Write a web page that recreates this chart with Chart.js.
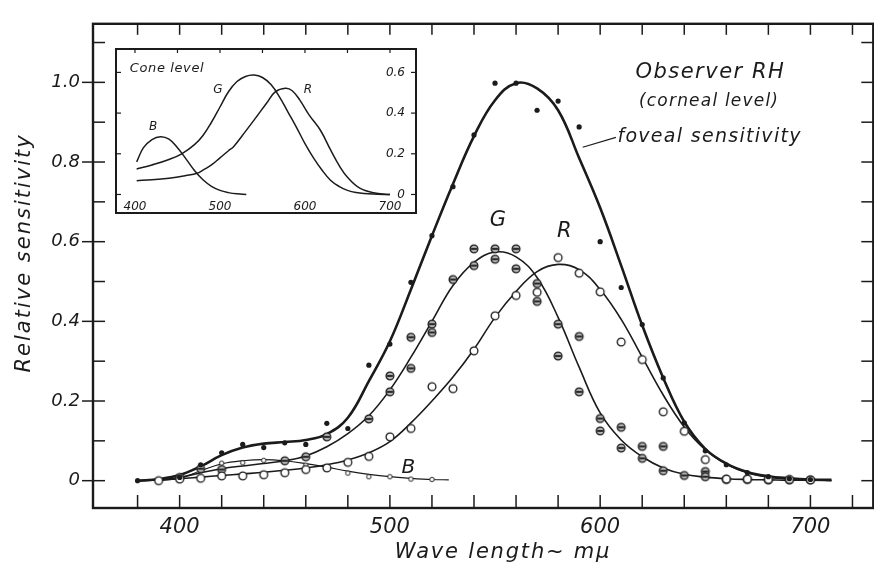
<!DOCTYPE html>
<html>
<head>
<meta charset="utf-8">
<title>Relative sensitivity, observer RH</title>
<script src="https://cdn.jsdelivr.net/npm/chart.js@4.4.1/dist/chart.umd.min.js"></script>
<style>
  html, body { margin: 0; padding: 0; background: #fff; overflow: hidden; }
  #wrap { position: relative; width: 900px; height: 569px; overflow: hidden; }
  #main { position: absolute; left: 0; top: 0; }
  #inset { position: absolute; left: 115px; top: 48px; background: #fff; }
</style>
</head>
<body>
<div id="wrap">
  <canvas id="main" width="900" height="569"></canvas>
  <canvas id="inset" width="302" height="166"></canvas>
</div>
<script>
(function () {
  'use strict';

  // fitted curves, read every 10 mμ
  var curveNm = [380, 390, 400, 410, 420, 430, 440, 450, 460, 470, 480, 490, 500, 510, 520, 530, 540,
    550, 560, 570, 580, 590, 600, 610, 620, 630, 640, 650, 660, 670, 680, 690, 700, 710];
  var fovealFit = [0.0, 0.004, 0.014, 0.036, 0.064, 0.083, 0.093, 0.097, 0.102, 0.117, 0.158, 0.25, 0.35,
    0.48, 0.615, 0.745, 0.865, 0.955, 0.998, 0.985, 0.93, 0.81, 0.685, 0.54, 0.39, 0.258, 0.148, 0.08,
    0.043, 0.022, 0.011, 0.006, 0.003, 0.002];
  var greenFit = [0.0, 0.002, 0.008, 0.02, 0.03, 0.037, 0.043, 0.05, 0.062, 0.085, 0.118, 0.163, 0.228,
    0.31, 0.4, 0.49, 0.548, 0.574, 0.562, 0.51, 0.41, 0.285, 0.17, 0.102, 0.06, 0.032, 0.016, 0.009,
    0.005, 0.003, 0.002, 0.001, 0.001, 0.0];
  var redFit = [0.0, 0.002, 0.005, 0.009, 0.013, 0.017, 0.021, 0.026, 0.032, 0.04, 0.052, 0.07, 0.098,
    0.145, 0.2, 0.26, 0.33, 0.41, 0.475, 0.525, 0.543, 0.53, 0.48, 0.405, 0.31, 0.215, 0.135, 0.078,
    0.042, 0.02, 0.009, 0.004, 0.002, 0.001];
  var blueFitNm = [390, 400, 410, 420, 430, 440, 450, 460, 470, 480, 490, 500, 510, 520, 528];
  var blueFit = [0.001, 0.006, 0.025, 0.042, 0.05, 0.053, 0.05, 0.043, 0.034, 0.024, 0.016, 0.01, 0.006,
    0.003, 0.002];

  // measured points
  var fovealNm = [380, 400, 410, 420, 430, 440, 450, 460, 470, 480, 490, 500, 510, 520, 530, 540, 550,
    560, 570, 580, 590, 600, 610, 620, 630, 640, 650, 660, 670, 680, 690, 700];
  var fovealVal = [0.0, 0.008, 0.04, 0.07, 0.091, 0.083, 0.095, 0.091, 0.144, 0.131, 0.29, 0.343, 0.498,
    0.615, 0.738, 0.868, 0.998, 0.998, 0.93, 0.953, 0.888, 0.6, 0.485, 0.392, 0.258, 0.145, 0.075, 0.04,
    0.02, 0.01, 0.005, 0.003];
  var greenNm = [400, 410, 420, 450, 460, 470, 490, 500, 500, 510, 510, 520, 520, 530, 540, 540, 550, 550,
    560, 560, 570, 570, 580, 580, 590, 590, 600, 600, 610, 610, 620, 620, 630, 630, 640, 650, 650, 660,
    670, 680, 690, 700];
  var greenVal = [0.008, 0.03, 0.028, 0.05, 0.06, 0.11, 0.155, 0.263, 0.223, 0.36, 0.282, 0.393, 0.372,
    0.505, 0.582, 0.54, 0.582, 0.556, 0.582, 0.532, 0.495, 0.45, 0.393, 0.313, 0.362, 0.223, 0.156, 0.125,
    0.134, 0.082, 0.086, 0.056, 0.086, 0.025, 0.013, 0.023, 0.01, 0.003, 0.003, 0.002, 0.002, 0.002];
  var redNm = [390, 400, 410, 420, 430, 440, 450, 460, 470, 480, 490, 500, 510, 520, 530, 540, 550, 560,
    570, 580, 590, 600, 610, 620, 630, 640, 650, 660, 670, 680, 690, 700];
  var redVal = [0.0, 0.004, 0.006, 0.012, 0.012, 0.015, 0.02, 0.028, 0.032, 0.046, 0.061, 0.11, 0.131,
    0.236, 0.231, 0.326, 0.414, 0.465, 0.473, 0.56, 0.521, 0.474, 0.348, 0.304, 0.173, 0.124, 0.053,
    0.004, 0.004, 0.003, 0.003, 0.002];
  var blueNm = [410, 420, 430, 440, 450, 460, 470, 480, 490, 500, 510, 520];
  var blueVal = [0.026, 0.044, 0.045, 0.051, 0.05, 0.039, 0.033, 0.019, 0.01, 0.01, 0.004, 0.003];

  // inset: cone level curves
  var coneBNm = [402, 410, 420, 430, 440, 450, 460, 470, 480, 490, 500, 510, 520, 531];
  var coneB = [0.16, 0.23, 0.27, 0.284, 0.272, 0.23, 0.175, 0.118, 0.072, 0.04, 0.02, 0.009, 0.003, 0.0];
  var coneGNm = [402, 420, 440, 455, 470, 480, 490, 500, 510, 520, 530, 540, 550, 560, 570, 580, 590,
    600, 610, 620, 630, 640, 650, 660, 680, 700];
  var coneG = [0.125, 0.145, 0.172, 0.2, 0.245, 0.29, 0.355, 0.43, 0.505, 0.555, 0.58, 0.587, 0.575,
    0.54, 0.48, 0.405, 0.33, 0.25, 0.18, 0.12, 0.07, 0.04, 0.02, 0.01, 0.002, 0.0];
  var coneRNm = [402, 420, 440, 460, 473, 480, 490, 500, 510, 516, 530, 543, 555, 565, 577, 585, 594,
    605, 618, 630, 641, 650, 665, 684, 700];
  var coneR = [0.068, 0.072, 0.08, 0.093, 0.104, 0.12, 0.145, 0.18, 0.215, 0.235, 0.31, 0.382, 0.45,
    0.504, 0.522, 0.51, 0.464, 0.39, 0.317, 0.22, 0.137, 0.085, 0.03, 0.006, 0.0];

  // axes
  var xTicks = [380, 400, 420, 440, 460, 480, 500, 520, 540, 560, 580, 600, 620, 640, 660, 680, 700, 720, 740];
  var xLabels = ['', '400', '', '', '', '', '500', '', '', '', '', '600', '', '', '', '', '700', '', ''];
  var yTicks = [0, 0.1, 0.2, 0.3, 0.4, 0.5, 0.6, 0.7, 0.8, 0.9, 1.0, 1.1];
  var yLabels = ['0', '', '0.2', '', '0.4', '', '0.6', '', '0.8', '', '1.0', ''];
  var insetXTicks = [400, 450, 500, 550, 600, 650, 700];
  var insetXLabels = ['400', '', '500', '', '600', '', '700'];
  var insetYTicks = [0, 0.2, 0.4, 0.6];
  var insetYLabels = ['0', '0.2', '0.4', '0.6'];

  var ink = '#1b1b1b';
  var family = '"DejaVu Sans"';

  function pairs(xs, ys) {
    return xs.map(function (x, i) { return {x: x, y: ys[i]}; });
  }

  function curve(xs, ys, width) {
    return {
      data: pairs(xs, ys),
      borderColor: ink,
      borderWidth: width,
      pointRadius: 0,
      tension: 0.4,
      fill: false
    };
  }

  function dots(xs, ys, style, radius) {
    return {
      data: pairs(xs, ys),
      showLine: false,
      pointStyle: style,
      pointRadius: radius,
      pointBackgroundColor: ink,
      pointBorderWidth: 0
    };
  }

  function marker(r, fill, bar, lw) {
    var c = document.createElement('canvas'), s = Math.ceil(r * 2 + 4), m = s / 2, ctx;
    c.width = s;
    c.height = s;
    ctx = c.getContext('2d');
    ctx.beginPath();
    ctx.arc(m, m, r, 0, Math.PI * 2);
    ctx.fillStyle = fill;
    ctx.fill();
    ctx.lineWidth = lw;
    ctx.strokeStyle = ink;
    ctx.stroke();
    if (bar) {
      ctx.beginPath();
      ctx.moveTo(m - r + 1, m);
      ctx.lineTo(m + r - 1, m);
      ctx.lineWidth = 1.8;
      ctx.stroke();
    }
    return c;
  }

  function text(ctx, str, x, y, size, spacing, align) {
    ctx.font = 'italic ' + size + 'px ' + family;
    ctx.letterSpacing = spacing + 'px';
    ctx.textAlign = align || 'center';
    ctx.textBaseline = 'middle';
    ctx.fillText(str, x, y);
  }

  function line(ctx, x1, y1, x2, y2) {
    ctx.beginPath();
    ctx.moveTo(x1, y1);
    ctx.lineTo(x2, y2);
    ctx.stroke();
  }

  var barred = marker(3.9, '#b4b4b4', true, 1.3);
  var open = marker(3.9, '#fff', false, 1.3);
  var small = marker(2.2, '#fff', false, 1);

  // frame with inward ticks, notes and axis titles; the right edge of the
  // frame sits just past the visible page, only its ticks show
  var mainFrame = {
    id: 'mainFrame',
    afterDraw: function (chart) {
      var ctx = chart.ctx, a = chart.chartArea, x = chart.scales.x, y = chart.scales.y;
      var rightEdge = x.getPixelForValue(729.9);
      ctx.save();
      ctx.strokeStyle = ink;
      ctx.fillStyle = ink;
      ctx.lineWidth = 2.4;
      ctx.strokeRect(a.left, a.top, rightEdge - a.left, a.bottom - a.top);
      ctx.lineWidth = 1.5;
      xTicks.forEach(function (v) {
        var px = x.getPixelForValue(v);
        line(ctx, px, a.bottom, px, a.bottom - 13);
        line(ctx, px, a.top, px, a.top + 11);
      });
      yTicks.forEach(function (v, i) {
        var py = y.getPixelForValue(v);
        line(ctx, a.left, py, a.left + 12, py);
        line(ctx, rightEdge, py, rightEdge - 12, py);
        if (yLabels[i]) {
          line(ctx, a.left - 11, py, a.left, py);
        }
      });

      text(ctx, 'Observer RH', x.getPixelForValue(652.4), y.getPixelForValue(1.025), 21, 1.5);
      text(ctx, '(corneal level)', x.getPixelForValue(651.8), y.getPixelForValue(0.952), 17, 1.2);
      text(ctx, 'foveal sensitivity', x.getPixelForValue(608.2), y.getPixelForValue(0.862), 19, 1.3, 'left');
      ctx.lineWidth = 1.2;
      line(ctx, x.getPixelForValue(591.7), y.getPixelForValue(0.837),
        x.getPixelForValue(607.5), y.getPixelForValue(0.862));
      text(ctx, 'G', x.getPixelForValue(551.4), y.getPixelForValue(0.654), 21, 0);
      text(ctx, 'R', x.getPixelForValue(583), y.getPixelForValue(0.625), 21, 0);
      text(ctx, 'B', x.getPixelForValue(508.8), y.getPixelForValue(0.033), 20, 0);

      text(ctx, 'Wave length~ mμ', x.getPixelForValue(553.8), a.bottom + 45, 21, 1.8);
      ctx.translate(a.left - 68, (a.top + a.bottom) / 2 - 13);
      ctx.rotate(-Math.PI / 2);
      text(ctx, 'Relative sensitivity', 0, 0, 21, 2);
      ctx.restore();
    }
  };

  new Chart(document.getElementById('main'), {
    type: 'line',
    data: {
      datasets: [
        dots(fovealNm, fovealVal, 'circle', 2.6),
        dots(redNm, redVal, open, 4),
        dots(greenNm, greenVal, barred, 4),
        dots(blueNm, blueVal, small, 2.5),
        curve(curveNm, fovealFit, 2.6),
        curve(curveNm, greenFit, 1.6),
        curve(curveNm, redFit, 1.6),
        curve(blueFitNm, blueFit, 1.2)
      ]
    },
    options: {
      responsive: false,
      animation: false,
      devicePixelRatio: 1,
      layout: {padding: {top: 12, right: 0, left: 0, bottom: 0}},
      plugins: {legend: {display: false}, tooltip: {enabled: false}},
      scales: {
        x: {
          type: 'linear',
          min: 358.8,
          max: 740.7,
          grid: {display: false, drawTicks: false},
          border: {display: false},
          afterBuildTicks: function (s) {
            s.ticks = xTicks.map(function (v) { return {value: v}; });
          },
          afterFit: function (s) {
            s.height = 61;
            s.paddingLeft = 0;
            s.paddingRight = 0;
          },
          ticks: {
            autoSkip: false,
            maxRotation: 0,
            padding: 7,
            color: ink,
            font: {family: family, style: 'italic', size: 21},
            callback: function (v, i) { return xLabels[i]; }
          }
        },
        y: {
          type: 'linear',
          min: -0.0686,
          max: 1.147,
          grid: {display: false, drawTicks: false},
          border: {display: false},
          afterBuildTicks: function (s) {
            s.ticks = yTicks.map(function (v) { return {value: v}; });
          },
          afterFit: function (s) { s.width = 93; },
          ticks: {
            autoSkip: false,
            padding: 13,
            color: ink,
            font: {family: family, style: 'italic', size: 18},
            callback: function (v, i) { return yLabels[i]; }
          }
        }
      }
    },
    plugins: [mainFrame]
  });

  // inset box: border, ticks, labels on the inside
  var insetFrame = {
    id: 'insetFrame',
    afterDraw: function (chart) {
      var ctx = chart.ctx, a = chart.chartArea, x = chart.scales.x, y = chart.scales.y;
      ctx.save();
      ctx.strokeStyle = ink;
      ctx.fillStyle = ink;
      ctx.lineWidth = 2;
      ctx.strokeRect(a.left + 1, a.top + 1, a.right - a.left - 2, a.bottom - a.top - 2);
      ctx.lineWidth = 1.2;
      insetYTicks.forEach(function (v, i) {
        var py = y.getPixelForValue(v);
        line(ctx, a.left, py, a.left + 6, py);
        line(ctx, a.right, py, a.right - 6, py);
        text(ctx, insetYLabels[i], a.right - 12, py, 12, 0, 'right');
      });
      insetXTicks.forEach(function (v, i) {
        var px = x.getPixelForValue(v);
        line(ctx, px, a.top, px, a.top + 5);
        if (insetXLabels[i]) {
          text(ctx, insetXLabels[i], px, a.bottom - 7, 12, 0);
        }
      });
      text(ctx, 'Cone level', x.getPixelForValue(394), y.getPixelForValue(0.62), 13, 0.6, 'left');
      text(ctx, 'B', x.getPixelForValue(421.2), y.getPixelForValue(0.332), 12, 0);
      text(ctx, 'G', x.getPixelForValue(497.6), y.getPixelForValue(0.514), 12, 0);
      text(ctx, 'R', x.getPixelForValue(603.5), y.getPixelForValue(0.514), 12, 0);
      ctx.restore();
    }
  };

  new Chart(document.getElementById('inset'), {
    type: 'line',
    data: {
      datasets: [
        curve(coneBNm, coneB, 1.5),
        curve(coneGNm, coneG, 1.5),
        curve(coneRNm, coneR, 1.5)
      ]
    },
    options: {
      responsive: false,
      animation: false,
      devicePixelRatio: 1,
      layout: {padding: 0},
      plugins: {legend: {display: false}, tooltip: {enabled: false}},
      scales: {
        x: {type: 'linear', min: 376.5, max: 731.8, display: false},
        y: {type: 'linear', min: -0.096, max: 0.72, display: false}
      }
    },
    plugins: [insetFrame]
  });
}());
</script>
</body>
</html>
